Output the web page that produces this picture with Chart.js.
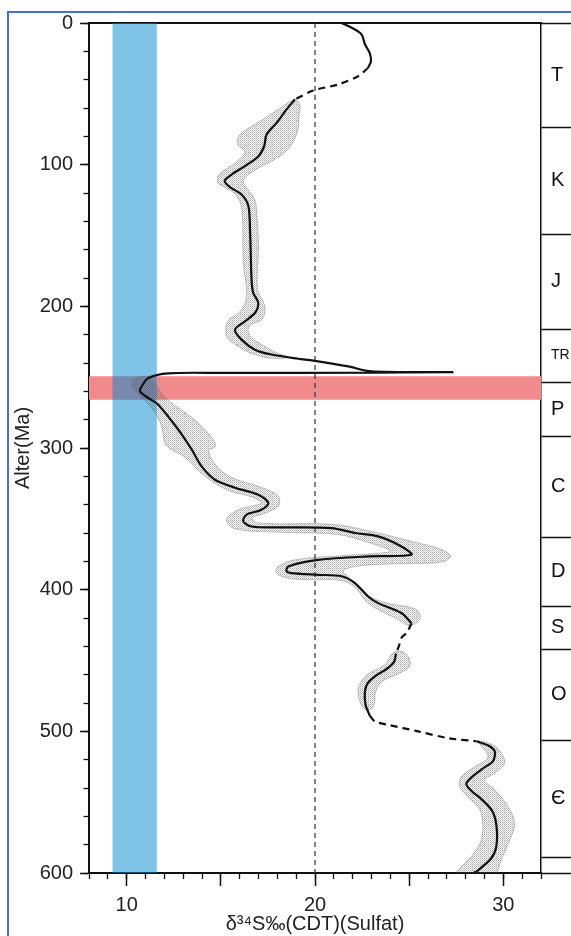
<!DOCTYPE html>
<html lang="de">
<head>
<meta charset="UTF-8">
<title>δ34S Sulfat gegen Alter</title>
<script src="https://cdn.jsdelivr.net/npm/chart.js"></script>
<style>
  html, body { margin: 0; padding: 0; background: #fff; overflow: hidden; }
  #frame { position: absolute; left: 7px; top: 11px; width: 700px; height: 1000px; border: 2px solid #4472c4; }
  #wrap { position: absolute; left: 0; top: 0; width: 571px; height: 936px; }
</style>
</head>
<body>
<div id="frame"></div>
<div id="wrap"><canvas id="chart" width="571" height="936"></canvas></div>
<script>
// [δ34S ‰, Alter Ma]
const curveTop = [[21.4,0],[21.9,3],[22.47,8],[22.65,15],[22.9,21],[22.97,27],[22.82,31.6]];
const gapTertiary = [[22.82,31.6],[22.29,37.6],[21.23,43.4],[19.9,47.7],[18.93,54]];
const curveMain = [[18.93,54],[18.49,61],[17.96,70.5],[17.43,78.7],[17.3,87],[17.0,94],[16.28,101],[15.57,107],[15.2,111.5],[15.5,116],[16.1,121],[16.46,129],[16.55,146],[16.63,181],[16.72,190.5],[16.99,197.6],[16.81,204.7],[16.28,210.6],[15.75,216.5],[16.1,223.5],[16.81,230.6],[17.69,234],[19.1,237],[19.9,238.3],[21.76,242.4],[23.0,245.9],[27.3,246.4],[23.0,246.8],[15.0,247.0],[12.2,247.3],[11.15,250.6],[10.8,256.5],[10.71,260],[11.15,264.7],[11.68,269.4],[12.74,287],[13.45,301],[13.98,313],[14.69,322.4],[15.75,328],[16.99,333],[17.52,338.8],[17.16,343.6],[16.37,347],[16.19,351.8],[16.63,355.4],[18.22,356],[20.88,356.5],[22.12,360],[23.35,362.4],[24.59,369.5],[25.12,375.4],[22.82,376.5],[20.17,379],[18.58,383.6],[18.49,387],[18.75,388.3],[20.17,389.5],[21.41,390.5],[22.12,395.3],[22.82,404.8],[23.35,409.5],[24.59,416.5],[25.12,423.6]];
const gapSilurian = [[25.12,423.6],[24.9,430],[24.59,434],[24.45,440],[24.3,445]];
const curveOrdovician = [[24.3,445],[24.2,451],[23.8,456],[23.2,461],[22.8,466],[22.65,472],[22.68,481],[22.91,489]];
const gapCambrOrd = [[22.91,489],[23.18,493],[23.88,495.4],[25.47,500],[27.06,504.8],[28.57,507]];
const curveCambrian = [[28.57,507],[29.2,510],[29.54,514],[29.45,521],[28.83,527],[28.04,536.6],[28.3,542],[28.85,548],[29.4,556],[29.63,566],[29.63,581],[29.36,589.6],[28.57,599],[28.4,600]];

// outlines of the shaded uncertainty band
const envKJ = [[18.93,53.5],[19.2,58],[19.15,66],[19.1,75],[18.7,87],[17.9,96],[16.9,103],[16.3,109],[16.2,113],[16.8,124.6],[16.9,134],[17.0,157.6],[16.95,188],[17.34,200],[17.2,209],[16.5,214],[16.55,221],[17.3,228],[18.0,233],[18.6,236],[17.52,236.5],[16.6,233],[16.0,229],[15.3,221],[15.4,210],[16.0,204],[16.37,193],[16.19,169],[16.1,130],[15.7,120],[14.86,113],[14.9,107],[15.75,99],[16.28,91],[15.9,86],[16.0,79],[17.0,70],[18.05,61],[18.6,56]];
const envPermDev = [[11.2,249.3],[11.6,256],[12.0,264],[13.6,280],[14.6,294],[14.7,299],[14.35,302],[14.8,313],[15.6,321],[17.2,328],[18.05,334],[18.05,341],[17.35,346],[16.65,349.4],[17.0,353],[21.0,354],[23.35,360],[25.3,366.5],[26.7,371.5],[27.2,376.5],[26.7,380.5],[24.9,381.5],[22.6,382.8],[21.6,385.5],[21.5,388.3],[21.7,390],[22.3,397.7],[23.0,405.5],[24.06,410.2],[25.3,413.5],[25.6,419.5],[25.2,425],[24.9,425],[24.4,421],[23.2,413],[22.65,407.5],[22.1,398],[21.4,393.5],[19.8,393],[18.6,392],[17.95,388.3],[18.05,383.6],[18.9,379],[21.6,375.8],[23.35,374.3],[24.0,372.5],[22.8,366.5],[21.2,361],[18.2,359.5],[15.75,357],[15.3,350.6],[15.93,343.6],[17.16,338.8],[16.63,334.5],[15.4,330],[14.16,320],[13.1,306.5],[12.1,298],[11.86,285],[11.5,275],[10.8,264],[10.3,256],[10.45,250.5]];
const envOrdovician = [[24.6,443.5],[24.94,447],[25.03,454],[24.41,459.5],[23.53,465],[23.2,473],[23.18,478],[23.1,482.5],[22.9,484.5],[22.6,484],[22.35,478],[22.29,470],[22.45,465],[22.82,459.5],[23.7,453],[24.0,447],[24.2,444]];
const envCambrian = [[28.9,507],[29.5,510],[29.89,515.4],[30.07,522.5],[29.54,529.5],[29.01,534.3],[29.54,541.3],[30.25,553],[30.6,565],[30.34,576.6],[29.89,590.7],[29.72,598],[29.6,603],[27.5,603],[27.6,598],[28.3,588.4],[28.83,576.6],[28.83,557.8],[28.3,548.6],[27.68,539],[27.77,532],[28.48,525],[29.19,518],[28.65,507]];

const blueBand = [9.25, 11.6];       // δ34S range
const redBand = [249.4, 266];        // Ma
const refLine = 20;                  // dashed reference value

const periodNames = ['T', 'K', 'J', 'TR', 'P', 'C', 'D', 'S', 'O', 'Є'];
const periodBounds = [0, 74, 149, 216, 253.6, 291.8, 363, 412, 442, 506.5, 589, 600];

const ageMajorTicks = [0, 100, 200, 300, 400, 500, 600];
const deltaMajorTicks = [10, 15, 20, 25, 30];
const deltaLabelTicks = [10, 20, 30];

const FONT = '"Liberation Sans", Arial, sans-serif';

const pts = a => a.map(([x, y]) => ({ x, y }));
const ring = a => pts(a.concat([a[0]]));

// stipple fill like the printed band
const dots = (() => {
    const c = document.createElement('canvas');
    c.width = 2; c.height = 2;
    const g = c.getContext('2d');
    g.fillStyle = 'rgba(80,80,80,0.5)'; g.fillRect(0, 0, 1, 1);
    g.fillStyle = 'rgba(80,80,80,0.3)'; g.fillRect(1, 1, 1, 1);
    return g.createPattern(c, 'repeat');
})();

const periodMids = periodNames.map((n, i) => (periodBounds[i] + periodBounds[i + 1]) / 2);
const midLabel = {};
periodMids.forEach((m, i) => { midLabel[m] = periodNames[i]; });

const env = data => ({ data: ring(data), fill: 'shape', backgroundColor: dots, borderColor: 'rgba(110,110,110,0.5)', borderWidth: 0.8, tension: 0.35, order: 3 });
const solid = data => ({ data: pts(data), borderColor: '#111', borderWidth: 2.2, tension: 0.3, fill: false, order: 1 });
const dashed = data => ({ data: pts(data), borderColor: '#111', borderWidth: 2.2, borderDash: [7, 5], tension: 0.3, fill: false, order: 1 });

const datasets = [
    { data: ring([[8, redBand[0]], [32, redBand[0]], [32, redBand[1]], [8, redBand[1]]]), fill: 'shape', backgroundColor: 'rgb(240,138,140)', borderWidth: 0, tension: 0, order: 6 },
    { data: ring([[blueBand[0], 0], [blueBand[1], 0], [blueBand[1], 600], [blueBand[0], 600]]), fill: 'shape', backgroundColor: 'rgba(0,135,205,0.5)', borderWidth: 0, tension: 0, order: 5 },
    { data: pts([[refLine, 0], [refLine, 600]]), borderColor: '#333', borderWidth: 1.2, borderDash: [5, 4], fill: false, order: 2 },
    env(envKJ), env(envPermDev), env(envOrdovician), env(envCambrian),
    solid(curveTop), dashed(gapTertiary), solid(curveMain), dashed(gapSilurian),
    solid(curveOrdovician), dashed(gapCambrOrd), solid(curveCambrian)
];

new Chart(document.getElementById('chart'), {
    type: 'line',
    data: { datasets },
    options: {
        responsive: false,
        animation: false,
        devicePixelRatio: 1,
        layout: { padding: { top: 23, left: 0, right: 0, bottom: 0 } },
        elements: { point: { radius: 0, hoverRadius: 0 } },
        plugins: { legend: { display: false }, tooltip: { enabled: false } },
        scales: {
            x: {
                type: 'linear', position: 'bottom', min: 8, max: 32,
                afterBuildTicks: ax => { ax.ticks = deltaMajorTicks.map(v => ({ value: v })); },
                afterFit: ax => { ax.height = 63; },
                ticks: { autoSkip: false, maxRotation: 0, padding: 7, color: '#222', font: { family: FONT, size: 20 },
                    callback: v => deltaLabelTicks.includes(v) ? String(v) : '' },
                grid: { drawOnChartArea: false, tickLength: 13, tickWidth: 1.5, tickColor: '#111' },
                border: { color: '#111', width: 2 },
                title: { display: true, text: 'δ³⁴S‰(CDT)(Sulfat)', color: '#222', font: { family: FONT, size: 20 }, padding: { top: 0, bottom: 0 } }
            },
            x2: {
                type: 'linear', axis: 'x', position: { y: 600 }, min: 8, max: 32,
                ticks: { display: false, stepSize: 1, maxTicksLimit: 100 },
                grid: { drawOnChartArea: false, tickLength: 6, tickWidth: 1.3, tickColor: '#111' },
                border: { display: false }
            },
            xTop: {
                type: 'linear', axis: 'x', position: 'top', min: 8, max: 32,
                afterFit: ax => { ax.height = 0; },
                ticks: { display: false },
                grid: { drawOnChartArea: false, drawTicks: false },
                border: { color: '#111', width: 2 }
            },
            y: {
                type: 'linear', position: 'left', reverse: true, min: 0, max: 600,
                afterBuildTicks: ax => { ax.ticks = ageMajorTicks.map(v => ({ value: v })); },
                afterFit: ax => { ax.width = 89; },
                ticks: { autoSkip: false, padding: 7, color: '#222', font: { family: FONT, size: 20 } },
                grid: { drawOnChartArea: false, tickLength: 9, tickWidth: 1.5, tickColor: '#111' },
                border: { color: '#111', width: 2 },
                title: { display: true, text: 'Alter(Ma)', color: '#222', font: { family: FONT, size: 20 }, padding: { top: 11, bottom: 0 } }
            },
            y2: {
                type: 'linear', axis: 'y', position: { x: 8 }, reverse: true, min: 0, max: 600,
                ticks: { display: false, stepSize: 20, maxTicksLimit: 100 },
                grid: { drawOnChartArea: false, tickLength: 5.5, tickWidth: 1.3, tickColor: '#111' },
                border: { display: false }
            },
            yCol: {
                type: 'linear', axis: 'y', position: 'right', reverse: true, min: 0, max: 600,
                afterBuildTicks: ax => {
                    ax.ticks = periodBounds.concat(periodMids).sort((a, b) => a - b).map(v => ({ value: v }));
                },
                afterFit: ax => { ax.width = 30; },
                ticks: {
                    autoSkip: false, padding: -30, crossAlign: 'near', color: '#111',
                    font: ctx => ({ family: FONT, size: (ctx.tick && midLabel[ctx.tick.value] === 'TR') ? 14 : 20 }),
                    callback: v => midLabel[v] || ''
                },
                grid: {
                    drawOnChartArea: false, tickLength: 40, tickWidth: 1.5,
                    tickColor: ctx => (ctx.tick && periodBounds.includes(ctx.tick.value)) ? '#111' : 'rgba(0,0,0,0)'
                },
                border: { color: '#111', width: 1.5 }
            }
        }
    }
});
</script>
</body>
</html>
